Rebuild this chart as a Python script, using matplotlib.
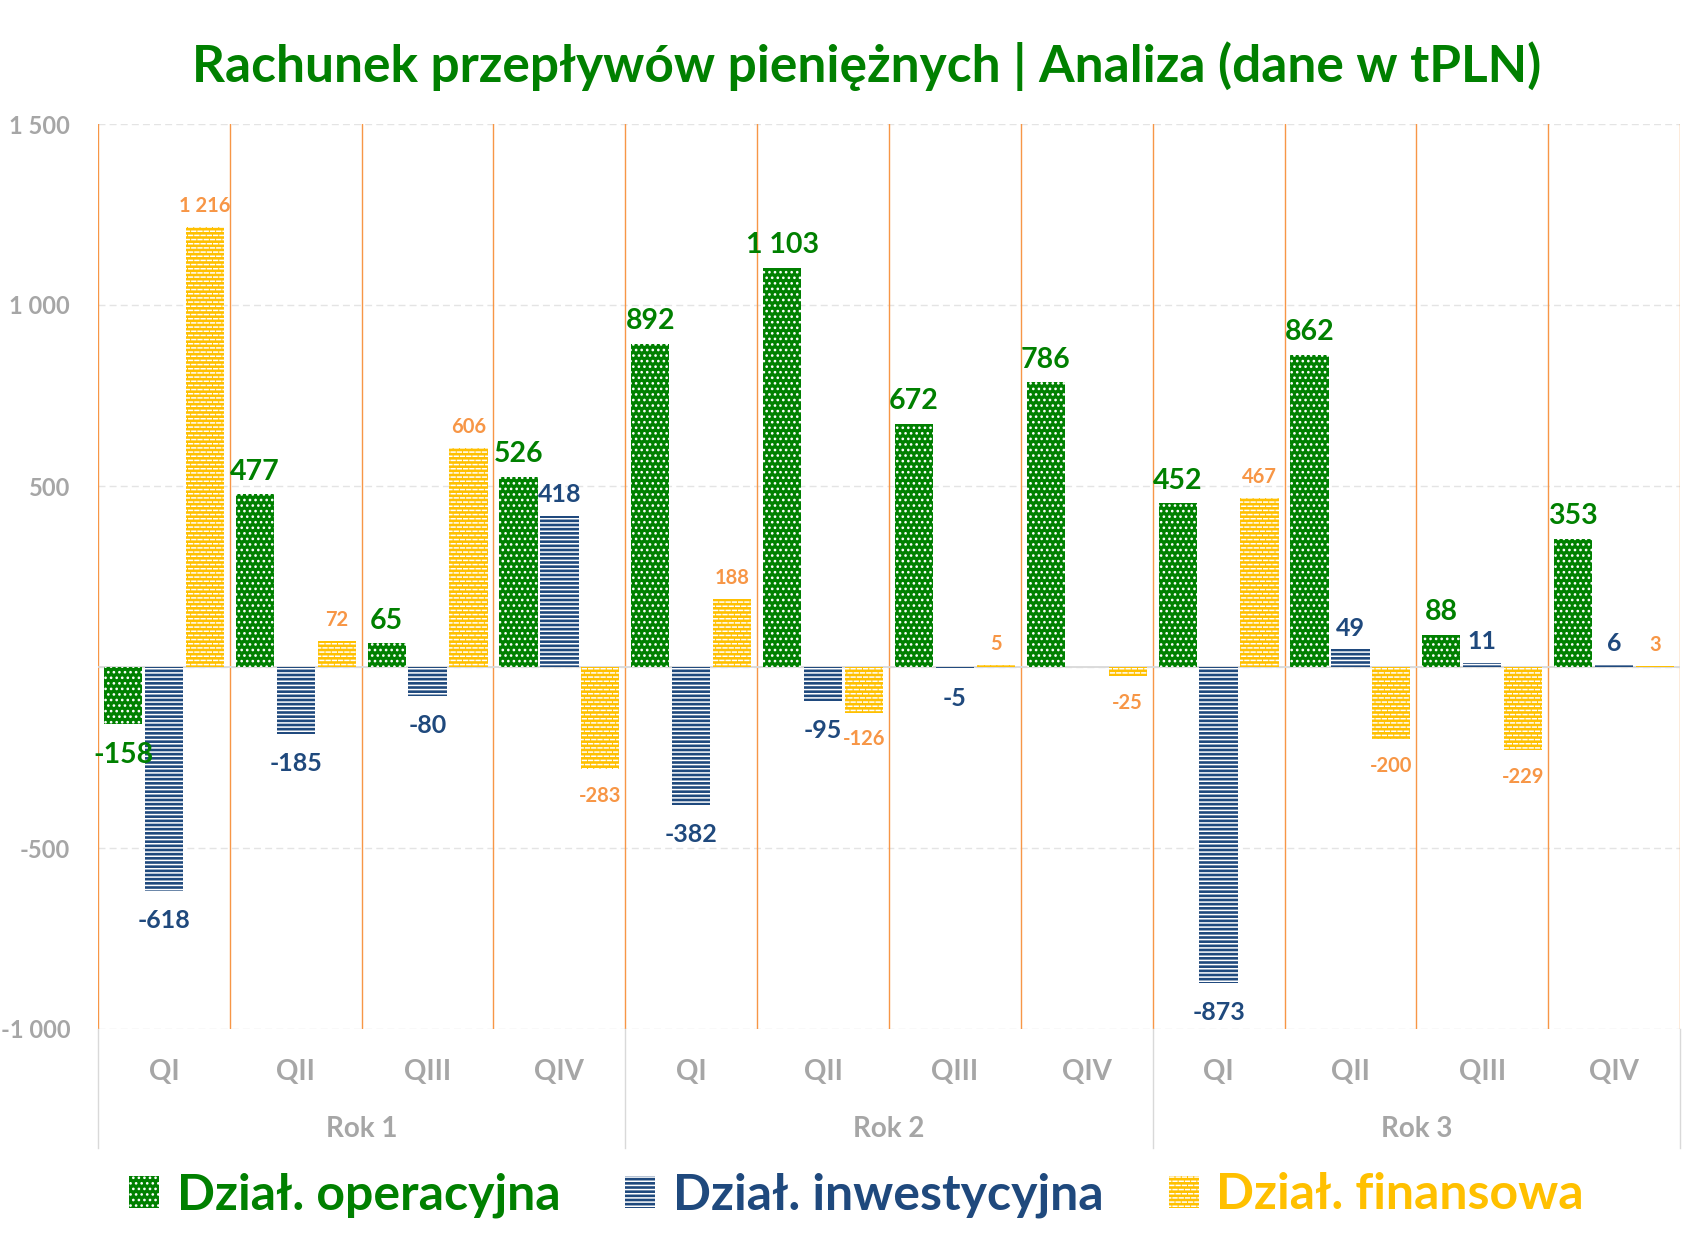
import numpy as np
import matplotlib.pyplot as plt
import matplotlib.hatch as mhatch
from matplotlib.path import Path
from matplotlib.patches import Patch

# ============================================================
# DANE (tPLN)
# ============================================================
kwartaly = ["QI", "QII", "QIII", "QIV"] * 3
lata     = ["Rok 1", "Rok 2", "Rok 3"]
serie    = ["Dział. operacyjna", "Dział. inwestycyjna", "Dział. finansowa"]

operacyjna   = [-158, 477, 65, 526, 892, 1103, 672, 786, 452, 862, 88, 353]
inwestycyjna = [-618, -185, -80, 418, -382, -95, -5, 0, -873, 49, 11, 6]
finansowa    = [1216, 72, 606, -283, 188, -126, 5, -25, 467, -200, -229, 3]

osY = [-1000, -500, 0, 500, 1000, 1500]

# ============================================================
# STYL
# ============================================================
ZIELONY   = "#008000"
NIEBIESKI = "#1F497D"
ZOLTY     = "#FFC000"
POMARANCZ = "#F79646"
SZARY     = "#A6A6A6"

plt.rcParams["font.family"] = ["Lato", "DejaVu Sans"]
plt.rcParams["font.weight"] = "bold"
plt.rcParams["hatch.linewidth"] = 1.1


# wzor "cegielki" jak w Excelu - podmienia gwiazdki ('*'), ktorych tu nie uzywam
class Cegly(mhatch.HatchPatternBase):
    def __init__(self, hatch, density):
        self.num_rows = int(hatch.count("*") * density)
        self.num_cols = (self.num_rows * 2) // 3
        self.num_vertices = self.num_rows * (self.num_cols + 1) * 2

    def set_vertices_and_codes(self, vertices, codes):
        dl = 0.3 / self.num_cols
        k = 0
        for r in range(self.num_rows):
            y = (r + 0.5) / self.num_rows
            sh = 0.0 if r % 2 == 0 else 0.5
            for j in range(self.num_cols + 1):
                c = (j + sh) / self.num_cols
                vertices[k] = (c - dl, y)
                vertices[k + 1] = (c + dl, y)
                codes[k] = Path.MOVETO
                codes[k + 1] = Path.LINETO
                k += 2


mhatch._hatch_types[:] = [Cegly if t is mhatch.Stars else t for t in mhatch._hatch_types]

WZ_OPER = "..."
WZ_INW  = "----"
WZ_FIN  = "****"


def formatuj(v):
    if v == 0:
        return ""
    return f"{v:,}".replace(",", " ")


def etykiety(slupki, wartosci, kolor, rozmiar, pad_plus, pad_minus):
    # osobno dodatnie i ujemne - Excel trzyma ujemne nieco nizej
    dodatnie = [formatuj(v) if v > 0 else "" for v in wartosci]
    ujemne   = [formatuj(v) if v < 0 else "" for v in wartosci]
    ax.bar_label(slupki, labels=dodatnie, padding=pad_plus, color=kolor,
                 fontsize=rozmiar, fontweight="bold")
    ax.bar_label(slupki, labels=ujemne, padding=pad_minus, color=kolor,
                 fontsize=rozmiar, fontweight="bold")


fig = plt.figure(figsize=(16.96, 12.34), dpi=100)
ax = fig.add_axes([98 / 1696, 1 - 1029 / 1234, (1680 - 98) / 1696, (1029 - 124) / 1234])

x = np.arange(len(kwartaly))
szer = 0.29
przes = 0.31

b1 = ax.bar(x - przes, operacyjna, szer, color=ZIELONY, edgecolor="white",
            hatch=WZ_OPER, linewidth=0, zorder=3)
b2 = ax.bar(x, inwestycyjna, szer, color=NIEBIESKI, edgecolor="white",
            hatch=WZ_INW, linewidth=0, zorder=3)
b3 = ax.bar(x + przes, finansowa, szer, color=ZOLTY, edgecolor="white",
            hatch=WZ_FIN, linewidth=0, zorder=3)

etykiety(b1, operacyjna, ZIELONY, 20.5, 7, 13)
etykiety(b2, inwestycyjna, NIEBIESKI, 18, 7, 13)
etykiety(b3, finansowa, POMARANCZ, 14.5, 8, 12)

# ============================================================
# OSIE
# ============================================================
ax.set_xlim(-0.5, len(kwartaly) - 0.5)
ax.set_ylim(-1000, 1500)
ax.set_yticks(osY)
ax.set_yticklabels(["" if v == 0 else formatuj(v) for v in osY])
ax.tick_params(axis="y", length=0, pad=20, labelsize=17, labelcolor=SZARY)
ax.set_xticks([])
for s in ax.spines.values():
    s.set_visible(False)

ax.yaxis.grid(True, color="#E4E4E4", linestyle=(0, (5, 3)), linewidth=1, zorder=0)
ax.set_axisbelow(True)
ax.axhline(0, color="#D9D9D9", linewidth=1.3, zorder=2)

for g in np.arange(-0.5, len(kwartaly), 1):
    ax.axvline(g, color=POMARANCZ, linewidth=1, zorder=1)

tr = ax.get_xaxis_transform()
for i, k in enumerate(kwartaly):
    ax.text(i, -0.048, k, transform=tr, ha="center", va="center",
            fontsize=20, color=SZARY, fontweight="bold")
for j, rok in enumerate(lata):
    ax.text(j * 4 + 1.5, -0.11, rok, transform=tr, ha="center", va="center",
            fontsize=20, color=SZARY, fontweight="bold")
for g in np.arange(-0.5, len(kwartaly), 4):
    ax.plot([g, g], [0, -0.132], transform=tr, color="#D9D9D9",
            linewidth=1, clip_on=False)

# ============================================================
# TYTUL I LEGENDA
# ============================================================
fig.text(867 / 1696, 1 - 66 / 1234,
         "Rachunek przepływów pieniężnych | Analiza (dane w tPLN)",
         ha="center", va="center", fontsize=37, color=ZIELONY, fontweight="bold")

uchwyty = [
    Patch(facecolor=ZIELONY, edgecolor="white", hatch=WZ_OPER, linewidth=0),
    Patch(facecolor=NIEBIESKI, edgecolor="white", hatch=WZ_INW, linewidth=0),
    Patch(facecolor=ZOLTY, edgecolor="white", hatch=WZ_FIN, linewidth=0),
]
leg = fig.legend(uchwyty, serie, loc="center", bbox_to_anchor=(0.505, 1 - 1195 / 1234),
                 ncol=3, frameon=False, fontsize=36, handlelength=0.6,
                 handleheight=0.6, handletextpad=0.35, columnspacing=1.3)
for t, c in zip(leg.get_texts(), [ZIELONY, NIEBIESKI, ZOLTY]):
    t.set_color(c)
    t.set_fontweight("bold")

plt.savefig("out.png", dpi=100)
